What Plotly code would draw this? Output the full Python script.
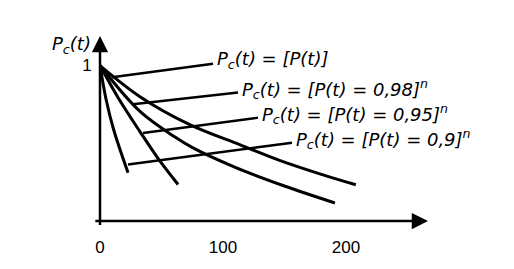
import plotly.graph_objects as go

# ---- data ----
t_p = [0, 32.5, 73, 114, 146, 180, 208]
p_p = [1.0, 0.80, 0.62, 0.49, 0.39, 0.30, 0.233]

t_98 = [0, 32.5, 61, 75.6, 110, 150, 191]
p_98 = [1.0, 0.705, 0.54, 0.47, 0.345, 0.225, 0.116]

t_95 = [0, 15, 32.5, 47, 63.5]
p_95 = [1.0, 0.79, 0.575, 0.405, 0.235]

t_90 = [0, 5, 11, 22.8]
p_90 = [1.0, 0.78, 0.59, 0.31]

x_ticks = [0, 100, 200]
x_tick_text = ["0", "100", "200"]
y_ticks = [1]
y_tick_text = ["1"]

labels = [
    "P<sub>c</sub>(t) = [P(t)]",
    "P<sub>c</sub>(t) = [P(t) = 0,98]<sup>n</sup>",
    "P<sub>c</sub>(t) = [P(t) = 0,95]<sup>n</sup>",
    "P<sub>c</sub>(t) = [P(t) = 0,9]<sup>n</sup>",
]
leader_start_t = [9.8, 26.8, 35.0, 22.8]
leader_start_p = [0.925, 0.751, 0.566, 0.364]
leader_end_t = [91.9, 112.2, 128.5, 156.1]
leader_end_p = [1.012, 0.827, 0.665, 0.503]

X_MAX = 266.7
Y_MAX = 1.19
FONT = "DejaVu Sans"

fig = go.Figure()
for tt, pp in [(t_p, p_p), (t_98, p_98), (t_95, p_95), (t_90, p_90)]:
    fig.add_trace(go.Scatter(x=tt, y=pp, mode="lines",
                             line=dict(color="black", width=3, shape="spline", smoothing=1.0),
                             showlegend=False, hoverinfo="skip"))

for i in range(len(labels)):
    fig.add_trace(go.Scatter(x=[leader_start_t[i], leader_end_t[i]], y=[leader_start_p[i], leader_end_p[i]],
                             mode="lines", line=dict(color="black", width=2.5), showlegend=False, hoverinfo="skip"))
    fig.add_annotation(x=leader_end_t[i] + 1.5, y=leader_end_p[i] + 0.025, xref="x", yref="y",
                       text="<i>" + labels[i] + "</i>", showarrow=False, xanchor="left", yanchor="middle",
                       font=dict(family=FONT, size=18, color="black"))

# axes with arrows
fig.add_annotation(x=X_MAX, y=0, ax=-5, ay=0, xref="x", yref="y", axref="x", ayref="y", text="",
                   showarrow=True, arrowhead=2, arrowsize=1.3, arrowwidth=2.5, arrowcolor="black")
fig.add_annotation(x=0, y=Y_MAX, ax=0, ay=-0.035, xref="x", yref="y", axref="x", ayref="y", text="",
                   showarrow=True, arrowhead=2, arrowsize=1.3, arrowwidth=2.5, arrowcolor="black")

fig.add_annotation(x=-0.088, y=0.95, xref="paper", yref="paper", text="<i>P<sub>c</sub>(t)</i>",
                   showarrow=False, xanchor="center", yanchor="middle",
                   font=dict(family=FONT, size=18, color="black"))

fig.update_xaxes(range=[0, X_MAX], tickvals=x_ticks, ticktext=x_tick_text, showgrid=False, zeroline=False,
                 showline=False, ticks="outside", ticklen=11, tickwidth=1, tickcolor="white",
                 tickfont=dict(family="Liberation Sans", size=17, color="black"))
fig.update_yaxes(range=[0, Y_MAX], tickvals=y_ticks, ticktext=y_tick_text, showgrid=False, zeroline=False,
                 showline=False, ticks="outside", ticklen=4, tickcolor="white",
                 tickfont=dict(family="Liberation Sans", size=17, color="black"))

fig.update_layout(width=514, height=269, margin=dict(l=100, r=86, t=36, b=27),
                  plot_bgcolor="white", paper_bgcolor="white")

fig.write_html("out.html")
